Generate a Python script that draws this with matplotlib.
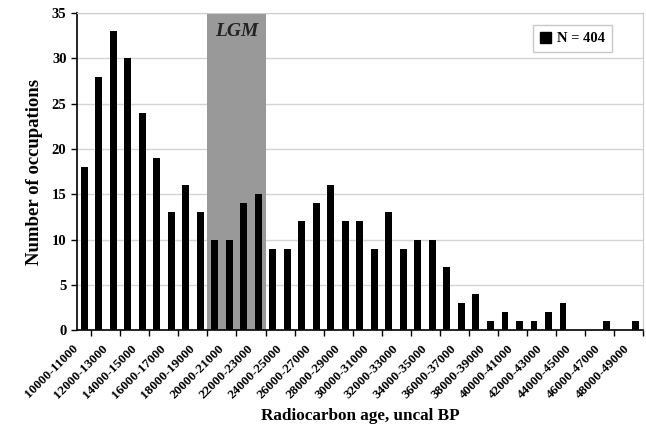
import numpy as np
import matplotlib.pyplot as plt
from matplotlib.patches import Patch

plt.rcParams['font.family'] = ['Liberation Serif', 'DejaVu Serif']
plt.rcParams['font.weight'] = 'bold'

bins = [f"{a}-{a+1000}" for a in range(10000, 49000, 1000)]
counts = [18, 28, 33, 30, 24, 19, 13, 16, 13, 10, 10, 14, 15, 9, 9, 12, 14, 16, 12, 12,
          9, 13, 9, 10, 10, 7, 3, 4, 1, 2, 1, 1, 2, 3, 0, 0, 1, 0, 1]
lgm_first, lgm_last = "19000-20000", "22000-23000"

fig = plt.figure(figsize=(6.46, 4.26), dpi=100)
ax = fig.add_axes([0.119, 0.225, 0.876, 0.744])

x = np.arange(len(bins))
i0, i1 = bins.index(lgm_first), bins.index(lgm_last)
ax.axvspan(i0 - 0.5, i1 + 0.5, color='#999999', zorder=1, lw=0)
ax.text((i0 + i1) / 2, 33.0, "LGM", ha='center', va='center', fontsize=14,
        fontstyle='italic', fontweight='bold', color='#222222')

ax.bar(x, counts, width=0.47, color='black', zorder=3)

ax.set_xlim(-0.5, len(bins) - 0.5)
ax.set_ylim(0, 35)
ax.set_yticks(range(0, 36, 5))
ax.yaxis.grid(True, color='#d4d4d4', lw=1, zorder=0)
ax.set_axisbelow(True)

# labels sit a bit left of each category, like the original
ax.set_xticks(x[::2] - 0.5)
ax.set_xticklabels(bins[::2], rotation=45, ha='right', va='center',
                   rotation_mode='anchor', fontsize=9.5)
ax.set_xticks(np.arange(-0.5, len(bins), 1), minor=True)
ax.tick_params(axis='x', which='major', length=0, pad=12)
ax.tick_params(axis='x', which='minor', length=4, width=1, direction='out')
ax.tick_params(axis='y', length=4, width=1, labelsize=10.5)

for s in ['top', 'right']:
    ax.spines[s].set_color('#cccccc')
for s in ['left', 'bottom']:
    ax.spines[s].set_color('black')
    ax.spines[s].set_linewidth(1.2)

ax.set_ylabel("Number of occupations", fontsize=13.5, fontweight='bold', labelpad=6)
ax.set_xlabel("Radiocarbon age, uncal BP", fontsize=12.3, fontweight='bold', labelpad=5)

leg = ax.legend([Patch(color='black')], ["N = 404"], loc='upper right',
                bbox_to_anchor=(0.945, 0.962), fancybox=False, fontsize=10.5,
                handlelength=0.8, handleheight=0.8, handletextpad=0.4,
                borderpad=0.45, borderaxespad=0)
leg.get_frame().set_edgecolor('#bbbbbb')
leg.get_frame().set_linewidth(1)

fig.savefig("out.png", dpi=100)
